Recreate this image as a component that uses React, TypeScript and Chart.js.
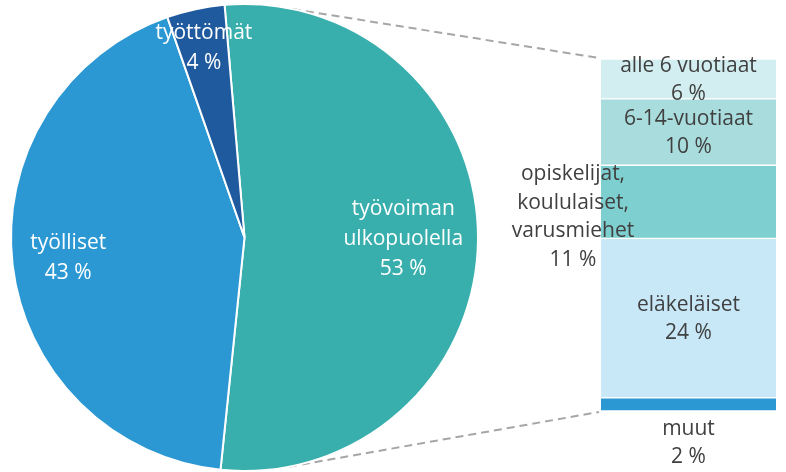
import React, { useEffect, useRef } from "react";
import { Chart, registerables } from "chart.js";

Chart.register(...registerables);

// Pie data
const pieCategories = ["työvoiman ulkopuolella", "työlliset", "työttömät"];
const pieLabelLines = [["työvoiman", "ulkopuolella"], ["työlliset"], ["työttömät"]];
const pieValues = [53, 43, 4];
const pieColors = ["#38AFAD", "#2B98D4", "#1F5A9E"];

// Breakdown bar data (top to bottom)
const barCategories = ["alle 6 vuotiaat", "6-14-vuotiaat", "opiskelijat, koululaiset, varusmiehet", "eläkeläiset", "muut"];
const barLabelLines = [["alle 6 vuotiaat"], ["6-14-vuotiaat"], ["opiskelijat,", "koululaiset,", "varusmiehet"], ["eläkeläiset"], ["muut"]];
const barValues = [6, 10, 11, 24, 2];
const barColors = ["#D3EEF0", "#A8DCDD", "#7ECFCF", "#C8E8F7", "#2B98D4"];

const FONT = "'Open Sans', 'DejaVu Sans', sans-serif";
const FONT_SIZE = 21;
const LINE_H = 28.5;
const BAR_LEFT_OFFSET = 480;

export default function App() {
  const pieRef = useRef<HTMLCanvasElement | null>(null);
  const barRef = useRef<HTMLCanvasElement | null>(null);

  useEffect(() => {
    document.body.style.margin = "0";
    if (!pieRef.current || !barRef.current) return;

    const n = barValues.length;
    const order = Array.from({ length: n }, (_, i) => n - 1 - i); // bottom first

    const barLabelPlugin = {
      id: "barLabels",
      afterDatasetsDraw(chart: any) {
        const ctx = chart.ctx;
        ctx.save();
        ctx.font = `${FONT_SIZE}px ${FONT}`;
        ctx.fillStyle = "#404040";
        ctx.textAlign = "center";
        ctx.textBaseline = "middle";
        chart.data.datasets.forEach((ds: any, di: number) => {
          const idx = ds.srcIndex;
          const el = chart.getDatasetMeta(di).data[0];
          if (!el) return;
          const { x, y, base, width } = el.getProps(["x", "y", "base", "width"], true);
          const top = Math.min(y, base);
          const bottom = Math.max(y, base);
          const lines = [...barLabelLines[idx], `${barValues[idx]} %`];
          let cx = x;
          let cy = (top + bottom) / 2 + 1;
          if (idx === 2) {
            cx = x - width / 2 - 28;
            cy = cy + 14;
          }
          let startY = cy - ((lines.length - 1) * LINE_H) / 2;
          if (idx === n - 1) {
            startY = bottom + 18;
          }
          lines.forEach((t, li) => ctx.fillText(t, cx, startY + li * LINE_H));
        });
        ctx.restore();
      },
    };

    const barChart = new Chart(barRef.current, {
      type: "bar",
      data: {
        labels: [""],
        datasets: order.map((i) => ({
          label: barCategories[i],
          data: [barValues[i]],
          backgroundColor: barColors[i],
          borderColor: "#ffffff",
          borderWidth: { top: 1, bottom: 1, left: 0, right: 0 },
          borderSkipped: false,
          barPercentage: 1,
          categoryPercentage: 1,
          srcIndex: i,
        })) as any,
      },
      options: {
        responsive: false,
        animation: false,
        layout: { padding: { left: 121, right: 10, top: 59, bottom: 61 } },
        scales: {
          x: { display: false, stacked: true },
          y: { display: false, stacked: true, min: 0, max: 53 },
        },
        plugins: { legend: { display: false }, tooltip: { enabled: false } },
      },
      plugins: [barLabelPlugin],
    });

    const pieLabelPlugin = {
      id: "pieLabels",
      beforeDatasetsDraw(chart: any) {
        // connector lines
        const meta = chart.getDatasetMeta(0);
        const arc = meta.data[0];
        if (!arc) return;
        const { x, y, outerRadius } = arc.getProps(["x", "y", "outerRadius"], true);
        const area = barChart.chartArea;
        const ctx = chart.ctx;
        const pt = (deg: number) => {
          const a = ((deg - 90) * Math.PI) / 180;
          return [x + outerRadius * Math.cos(a), y + outerRadius * Math.sin(a)];
        };
        ctx.save();
        ctx.strokeStyle = "#A6A6A6";
        ctx.lineWidth = 2;
        ctx.setLineDash([8, 5]);
        const p1 = pt(12);
        ctx.beginPath();
        ctx.moveTo(p1[0], p1[1]);
        ctx.lineTo(area.left + BAR_LEFT_OFFSET - 2, area.top - 1);
        ctx.stroke();
        const p2 = pt(169);
        ctx.beginPath();
        ctx.moveTo(p2[0], p2[1]);
        ctx.lineTo(area.left + BAR_LEFT_OFFSET - 2, area.bottom + 1);
        ctx.stroke();
        ctx.restore();
      },
      afterDatasetsDraw(chart: any) {
        const ctx = chart.ctx;
        const meta = chart.getDatasetMeta(0);
        const factors = [0.68, 0.76, 0.83];
        ctx.save();
        ctx.font = `${FONT_SIZE}px ${FONT}`;
        ctx.fillStyle = "#ffffff";
        ctx.textAlign = "center";
        ctx.textBaseline = "middle";
        meta.data.forEach((el: any, i: number) => {
          const { x, y, startAngle, endAngle, outerRadius } = el.getProps(
            ["x", "y", "startAngle", "endAngle", "outerRadius"],
            true
          );
          const mid = (startAngle + endAngle) / 2;
          const r = outerRadius * factors[i];
          const cx = x + r * Math.cos(mid);
          const cy = y + r * Math.sin(mid);
          const lines = [...pieLabelLines[i], `${pieValues[i]} %`];
          const sy = cy - ((lines.length - 1) * 30) / 2;
          lines.forEach((t, li) => ctx.fillText(t, cx, sy + li * 30));
        });
        ctx.restore();
      },
    };

    const pieChart = new Chart(pieRef.current, {
      type: "pie",
      data: {
        labels: pieCategories,
        datasets: [
          {
            data: pieValues,
            backgroundColor: pieColors,
            borderColor: "#ffffff",
            borderWidth: 2,
          },
        ],
      },
      options: {
        responsive: false,
        animation: false,
        rotation: -4.9,
        layout: { padding: { left: 10, right: 307, top: 3, bottom: 0 } },
        plugins: { legend: { display: false }, tooltip: { enabled: false } },
      },
      plugins: [pieLabelPlugin],
    });

    return () => {
      pieChart.destroy();
      barChart.destroy();
    };
  }, []);

  return (
    <div style={{ position: "relative", width: 786, height: 472, background: "#fff" }}>
      <canvas ref={pieRef} width={786} height={472} style={{ position: "absolute", left: 0, top: 0 }} />
      <canvas
        ref={barRef}
        width={786 - BAR_LEFT_OFFSET}
        height={472}
        style={{ position: "absolute", left: BAR_LEFT_OFFSET, top: 0 }}
      />
    </div>
  );
}
